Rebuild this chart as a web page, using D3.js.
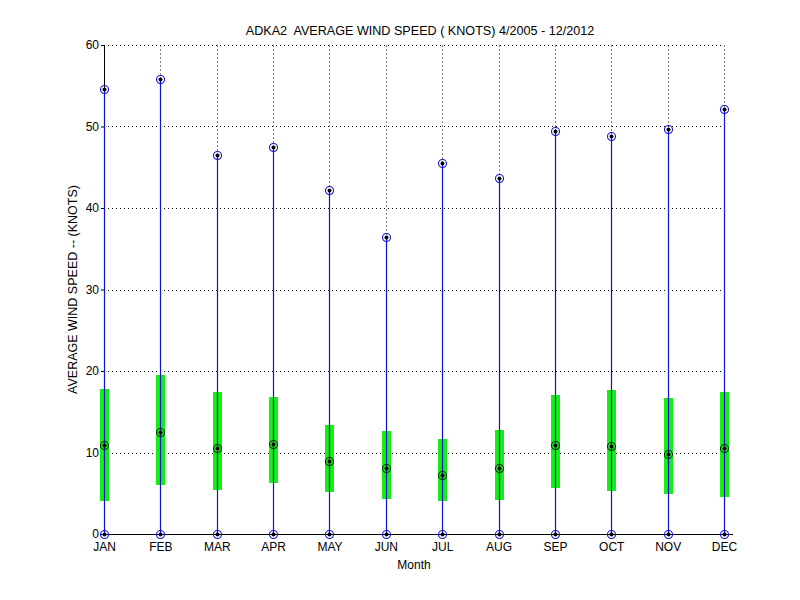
<!DOCTYPE html>
<html>
<head>
<meta charset="utf-8">
<script src="https://cdn.jsdelivr.net/npm/d3@7"></script>
<style>
body { margin: 0; background: #fff; }
text { font-family: "Liberation Sans", Arial, sans-serif; }
</style>
</head>
<body>
<div id="chart"></div>
<script>
const months = ["JAN","FEB","MAR","APR","MAY","JUN","JUL","AUG","SEP","OCT","NOV","DEC"];
const maxSpeed = [54.6, 55.8, 46.5, 47.5, 42.2, 36.4, 45.5, 43.7, 49.4, 48.8, 49.7, 52.1];
const minSpeed = [0, 0, 0, 0, 0, 0, 0, 0, 0, 0, 0, 0];
const meanSpeed = [10.9, 12.5, 10.5, 11.1, 9.0, 8.1, 7.2, 8.1, 10.9, 10.75, 9.8, 10.55];
const stdTop = [17.8, 19.5, 17.4, 16.8, 13.4, 12.6, 11.7, 12.8, 17.05, 17.7, 16.7, 17.4];
const stdBottom = [4.0, 6.0, 5.4, 6.3, 5.1, 4.35, 4.0, 4.2, 5.7, 5.3, 4.95, 4.6];
const yTicks = [0, 10, 20, 30, 40, 50, 60];

const width = 800, height = 600;
const margin = {top: 45, right: 76, bottom: 66, left: 104};

const svg = d3.select("#chart").append("svg")
  .attr("width", width).attr("height", height);

const xs = d3.scalePoint(months, [margin.left, width - margin.right]);
// snap to pixel centre so the 1px lines stay crisp
const x = d => Math.round(xs(d)) + 0.5;
const y = d3.scaleLinear([0, 60], [height - margin.bottom, margin.top]);
const yc = v => Math.round(y(v)) + 0.5;

const blue = "#1010d0";

// dotted grid
svg.append("g")
  .selectAll("line")
  .data(yTicks.slice(1))
  .join("line")
  .attr("x1", margin.left).attr("x2", width - margin.right)
  .attr("y1", d => yc(d)).attr("y2", d => yc(d))
  .attr("stroke", "#000").attr("stroke-width", 1)
  .attr("stroke-dasharray", "1,3");

svg.append("g")
  .selectAll("line")
  .data(months.slice(1))
  .join("line")
  .attr("x1", d => x(d)).attr("x2", d => x(d))
  .attr("y1", yc(0)).attr("y2", yc(60))
  .attr("stroke", "#000").attr("stroke-width", 1)
  .attr("stroke-dasharray", "1,3");

// y axis
const yAxis = svg.append("g")
  .attr("transform", `translate(${margin.left},0)`)
  .call(d3.axisLeft(y).tickValues(yTicks).tickSize(3).tickPadding(2));
yAxis.select(".domain").remove();
yAxis.selectAll("text").attr("font-size", 12).attr("font-family", "Liberation Sans, Arial, sans-serif").attr("fill", "#000");

// x axis baseline
svg.append("line")
  .attr("x1", margin.left - 3).attr("x2", width - margin.right + 9)
  .attr("y1", yc(0)).attr("y2", yc(0))
  .attr("stroke", "#000");

const xAxis = svg.append("g")
  .attr("transform", `translate(0,${y(0)})`)
  .call(d3.axisBottom(xs).tickSize(0).tickPadding(8));
xAxis.select(".domain").remove();
xAxis.selectAll("text").attr("font-size", 12).attr("font-family", "Liberation Sans, Arial, sans-serif").attr("fill", "#000");

// green std bars
svg.append("g")
  .selectAll("rect")
  .data(months)
  .join("rect")
  .attr("x", d => x(d) - 4.5)
  .attr("width", 9)
  .attr("y", (d, i) => Math.round(y(stdTop[i])))
  .attr("height", (d, i) => Math.round(y(stdBottom[i])) - Math.round(y(stdTop[i])))
  .attr("fill", "#14f014");

// stems
svg.append("g")
  .selectAll("line")
  .data(months)
  .join("line")
  .attr("x1", d => x(d)).attr("x2", d => x(d))
  .attr("y1", (d, i) => yc(minSpeed[i]))
  .attr("y2", (d, i) => yc(maxSpeed[i]))
  .attr("stroke", blue).attr("stroke-width", 1.2);

// y axis line, only visible above the JAN stem
svg.append("line")
  .attr("x1", x(months[0])).attr("x2", x(months[0]))
  .attr("y1", yc(60)).attr("y2", yc(maxSpeed[0]))
  .attr("stroke", "#000");

function markers(values, ringColor) {
  const g = svg.append("g");
  g.selectAll("circle.ring")
    .data(months)
    .join("circle")
    .attr("class", "ring")
    .attr("cx", d => x(d))
    .attr("cy", (d, i) => yc(values[i]))
    .attr("r", 4)
    .attr("fill", "none")
    .attr("stroke", ringColor).attr("stroke-width", 1.1);
  g.selectAll("circle.dot")
    .data(months)
    .join("circle")
    .attr("class", "dot")
    .attr("cx", d => x(d))
    .attr("cy", (d, i) => yc(values[i]))
    .attr("r", 2)
    .attr("fill", "#000");
}
markers(maxSpeed, blue);
markers(minSpeed, blue);
markers(meanSpeed, "#102a10");

// titles
svg.append("text")
  .attr("x", (margin.left + width - margin.right) / 2 + 6)
  .attr("y", 35)
  .attr("text-anchor", "middle")
  .attr("font-size", 12.6)
  .style("white-space", "pre")
  .text("ADKA2  AVERAGE WIND SPEED ( KNOTS) 4/2005 - 12/2012");

svg.append("text")
  .attr("x", (margin.left + width - margin.right) / 2)
  .attr("y", 569)
  .attr("text-anchor", "middle")
  .attr("font-size", 12)
  .text("Month");

svg.append("text")
  .attr("transform", `translate(77,${(y(0) + y(60)) / 2}) rotate(-90)`)
  .attr("text-anchor", "middle")
  .attr("font-size", 12.5)
  .text("AVERAGE WIND SPEED -- (KNOTS)");
</script>
</body>
</html>
